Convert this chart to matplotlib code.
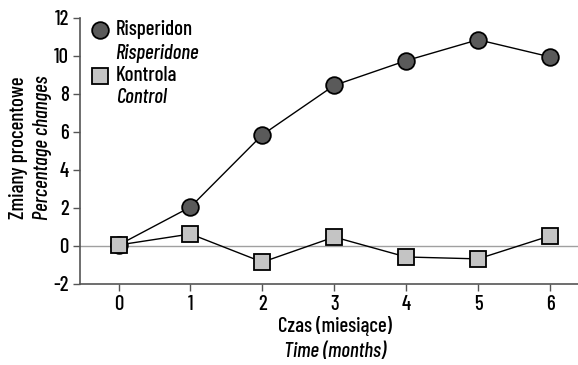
import numpy as np
import matplotlib.pyplot as plt

months = [0, 1, 2, 3, 4, 5, 6]
risperidon = [0.05, 2.05, 5.85, 8.45, 9.75, 10.85, 9.95]
kontrola = [0.05, 0.63, -0.85, 0.47, -0.58, -0.68, 0.53]

plt.rcParams['font.family'] = ['Barlow Condensed', 'DejaVu Sans']
plt.rcParams['font.weight'] = 'medium'
plt.rcParams['axes.unicode_minus'] = False

fig = plt.figure(figsize=(5.78, 3.65), dpi=100)
ax = fig.add_axes([0.138, 0.222, 0.862, 0.729])

ax.axhline(0, color='#a0a0a0', lw=1, zorder=1)
ax.plot(months, risperidon, '-o', color='black', lw=1, ms=12,
        mfc='#5a5a5a', mec='black', mew=1.3, zorder=3)
ax.plot(months, kontrola, '-s', color='black', lw=1, ms=11.5,
        mfc='#c4c4c4', mec='black', mew=1.3, zorder=3)

ax.set_xlim(-0.54, 6.39)
ax.set_ylim(-2, 12)
ax.set_xticks(months)
ax.set_yticks(range(-2, 13, 2))
ax.tick_params(labelsize=15, length=5, width=1, color='#555555')
ax.tick_params(axis='x', pad=3)
ax.tick_params(axis='y', pad=3)
for s in ['top', 'right']:
    ax.spines[s].set_visible(False)
for s in ['left', 'bottom']:
    ax.spines[s].set_color('#555555')
    ax.spines[s].set_linewidth(1.2)

# legend
ax.plot([0.040], [0.955], 'o', transform=ax.transAxes, ms=12,
        mfc='#5a5a5a', mec='black', mew=1.3, clip_on=False)
ax.plot([0.040], [0.782], 's', transform=ax.transAxes, ms=11.5,
        mfc='#c4c4c4', mec='black', mew=1.3, clip_on=False)
ax.text(0.072, 0.955, 'Risperidon', transform=ax.transAxes, fontsize=15, va='center')
ax.text(0.072, 0.868, 'Risperidone', transform=ax.transAxes, fontsize=15, va='center', style='italic')
ax.text(0.072, 0.782, 'Kontrola', transform=ax.transAxes, fontsize=15, va='center')
ax.text(0.072, 0.699, 'Control', transform=ax.transAxes, fontsize=15, va='center', style='italic')

fig.text(0.032, 0.595, 'Zmiany procentowe', rotation=90, fontsize=15, ha='center', va='center')
fig.text(0.073, 0.595, 'Percentage changes', rotation=90, fontsize=15, ha='center', va='center', style='italic')
fig.text(0.58, 0.107, 'Czas (miesiące)', fontsize=15, ha='center', va='center')
fig.text(0.58, 0.036, 'Time (months)', fontsize=15, ha='center', va='center', style='italic')

fig.savefig('out.png', dpi=100)
